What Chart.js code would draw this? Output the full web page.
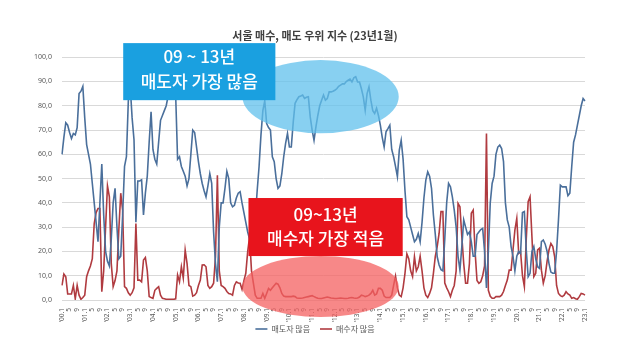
<!DOCTYPE html>
<html><head><meta charset="utf-8">
<script src="https://cdn.jsdelivr.net/npm/chart.js@4.4.1/dist/chart.umd.min.js"></script>
<style>html,body{margin:0;padding:0;background:#fff}</style>
</head><body>
<canvas id="c" width="640" height="355"></canvas>
<script>
const FONT = '"Noto Sans CJK KR", "Noto Sans", sans-serif';
const TICK_FONT = '"Noto Sans", "Liberation Sans", sans-serif';
const titleText = '서울 매수, 매도 우위 지수 (23년1월)';
const seriesNames = ['매도자 많음', '매수자 많음'];
const firstYear = 2000, monthCount = 277;   // '00.1 ~ '23.1 monthly
const labelledMonths = [1, 5, 9];
const yTicks = [0, 10, 20, 30, 40, 50, 60, 70, 80, 90, 100];

// 매도자 많음 (blue)
const sellers = [
  60, 67, 73, 72, 69, 66.5, 68.6, 68, 71, 85, 86, 88,
  75, 64, 60, 56, 48, 40, 32, 24, 40, 56, 35, 20,
  16, 14, 25, 40, 46, 30, 17, 18, 35, 55, 59, 82,
  88, 75, 66, 32, 49, 49, 49.5, 35, 44, 51, 65, 77.5,
  62, 58, 56, 65, 74, 76, 78, 80, 84, 86, 87, 86,
  84, 58, 59, 55, 53, 51, 47, 50, 60, 70, 69, 63,
  57, 52, 48, 45, 42.5, 47, 52, 48, 28, 15, 7.5, 30,
  40, 40, 46, 53, 50, 40, 38.4, 39, 42, 44, 44.6, 40,
  36, 32, 28, 25, 23, 26, 34, 45, 55, 68, 78, 82,
  72.7, 71, 70, 59, 57, 50, 46, 47, 52, 59, 64.5, 68.6,
  63, 63, 73, 81, 82.5, 83.7, 84, 84.4, 83, 83.5, 83.7, 75.4,
  70, 65.8, 71.3, 76, 80, 82.3, 84.4, 82.3, 83, 85.7, 85.7, 86,
  86.4, 87, 88, 88.5, 89, 89, 90, 90.5, 91, 89.8, 91.5, 92,
  89.8, 89.8, 87, 83.7, 78.2, 85, 87.8, 82.3, 78, 76.8, 79, 76,
  72, 67, 63, 69.3, 70.6, 72, 62, 59, 55, 50.8, 61.7, 65.8,
  58, 45, 34.3, 33, 30, 27, 24, 25, 27.4, 24, 32, 42,
  49.4, 52.8, 51, 46, 35, 27, 17.8, 14.4, 12.5, 12, 25, 40,
  48, 46.6, 42.5, 37, 30, 18, 12.3, 22, 33, 30, 27, 28,
  24, 18, 18, 27, 28, 29, 29.5, 20, 5, 20, 40, 48,
  51, 60, 63, 63.8, 62.4, 57, 40, 33, 30, 22, 18, 12,
  18, 20, 19.2, 36, 36.4, 20.6, 9.6, 11, 20, 22, 17, 13.7,
  13, 24, 24.7, 23, 20, 15, 11.5, 11, 11, 20, 33, 47.3,
  46.6, 46.6, 46.6, 43, 44, 55, 65, 68, 72, 76, 80, 83,
  82
];

// 매수자 많음 (red)
const buyers = [
  6, 10.7, 9.6, 2.5, 2.5, 2.5, 6, 0.5, 6, 2, 0.3, 1,
  2, 9.6, 12, 14, 17, 31.5, 36, 37.7, 37.7, 3.4, 12, 30,
  47, 42.5, 15, 5.5, 8, 12, 29, 44, 37, 5.5, 4.8, 3,
  2, 3, 5, 31.5, 8.2, 8.2, 7.5, 16.5, 17.5, 12, 1.4, 1,
  0.7, 4, 4.8, 5.5, 2, 0.7, 0.5, 0.3, 0.3, 0.3, 0.3, 0.3,
  0.5, 10.3, 7.5, 13.7, 9, 20.6, 15, 6, 5.5, 1.6, 2, 3,
  6, 8.2, 14.4, 14.5, 13.7, 6, 4.8, 5.5, 6.9, 17.8, 51.4, 12,
  6, 5.5, 4.8, 3.5, 2.7, 2.5, 2, 6, 7.5, 7, 6.9, 4.4,
  8, 11, 20, 26, 12, 7, 2, 0.7, 0.7, 0.7, 2.7, 0.7,
  2.7, 4.8, 4, 5, 6, 6.9, 6.5, 5, 2.7, 1.6, 1.4, 1.4,
  1.4, 1.4, 1.6, 1.4, 0.8, 0.7, 0.7, 0.8, 1, 1.2, 1.4, 1.6,
  1.8, 1.4, 1, 0.7, 0.6, 0.6, 0.8, 1.0, 1.2, 1.0, 0.8, 0.7,
  0.6, 0.6, 0.7, 0.8, 0.7, 0.6, 0.6, 0.7, 0.9, 1.0, 0.8, 0.7,
  0.8, 1.2, 2.0, 1.8, 1.4, 1.6, 2.0, 2.7, 4, 2, 2.5, 4.8,
  4.8, 4, 1.6, 1, 1, 1, 2, 6, 9.9, 5, 2, 1.4,
  5, 11, 19, 17, 12, 9.6, 17.8, 12, 13.7, 18, 12, 5,
  2, 1, 2.7, 5, 11, 18, 22, 27.4, 36.4, 36.4, 7, 5,
  3.4, 1.4, 4, 6, 12, 39.8, 38.4, 26, 15, 6.9, 6.9, 15,
  35.7, 37, 20, 8, 6.9, 7.5, 10, 14, 68.6, 4, 1.5, 0.7,
  0.7, 1.4, 1.4, 1.4, 2, 3.5, 6, 8.2, 12.3, 12.3, 20.6, 28.8,
  33.6, 19.2, 19.9, 10, 5.5, 25, 40.5, 42.5, 26, 9.6, 11, 20.6,
  21.3, 12.3, 6.9, 10, 16, 20.6, 23.3, 22, 17.8, 6, 2.7, 1.8,
  1.4, 2, 3.4, 2.5, 2, 0.7, 1, 0.5, 0.3, 1.4, 2.7, 2.5,
  2
];

// category labels: "'00.1", "2", ... "'23.1"
const categories = [];
const categoryMonth = [];
for (let k = 0; k < monthCount; k++) {
  const yy = firstYear + Math.floor(k / 12), mm = k % 12 + 1;
  categoryMonth.push(mm);
  categories.push(mm === 1 ? "'" + String(yy % 100).padStart(2, '0') + '.1' : String(mm));
}

// annotation callouts (in data units: x = month index, y = index value)
const callouts = [
  { kind: 'ellipse', x0: 95.2, x1: 177.7, y0: 98.8, y1: 68.7, fill: 'rgba(96,192,236,0.75)' },
  { kind: 'ellipse', x0: 95.2, x1: 177.7, y0: 18.1, y1: -7.0, fill: 'rgba(244,96,96,0.75)' },
  { kind: 'box', x0: 32.3, x1: 112.6, y0: 105.8, y1: 82.3, fill: '#1aa0e0',
    lines: [['09 ~ 13년', 100.2], ['매도자 가장 많음', 89.8]] },
  { kind: 'box', x0: 98.4, x1: 179.8, y0: 42.0, y1: 18.1, fill: '#e8141c',
    lines: [['09~13년', 35.4], ['매수자 가장 적음', 25.2]] }
];

const calloutPlugin = {
  id: 'callouts',
  afterLayout(chart) {
    // pull the legend row up to sit just under the month labels
    if (chart.legend) { chart.legend.top -= 9; chart.legend.bottom -= 9; }
  },
  afterDatasetsDraw(chart) {
    const { ctx, scales: { x, y } } = chart;
    ctx.save();
    callouts.forEach(c => {
      const L = x.getPixelForValue(c.x0), R = x.getPixelForValue(c.x1);
      const T = y.getPixelForValue(c.y0), B = y.getPixelForValue(c.y1);
      ctx.fillStyle = c.fill;
      if (c.kind === 'ellipse') {
        ctx.beginPath();
        ctx.ellipse((L + R) / 2, (T + B) / 2, (R - L) / 2, (B - T) / 2, 0, 0, Math.PI * 2);
        ctx.fill();
      } else {
        ctx.fillRect(L, T, R - L, B - T);
        ctx.fillStyle = '#ffffff';
        ctx.font = '500 17px ' + FONT;
        ctx.textAlign = 'center';
        ctx.textBaseline = 'middle';
        c.lines.forEach(([t, v]) => ctx.fillText(t, (L + R) / 2, y.getPixelForValue(v)));
      }
    });
    ctx.restore();
  }
};

new Chart(document.getElementById('c'), {
  type: 'line',
  data: {
    labels: categories,
    datasets: [
      { label: seriesNames[0], data: sellers, borderColor: '#4a6f9b', backgroundColor: '#4a6f9b',
        borderWidth: 1.6, pointRadius: 0, tension: 0 },
      { label: seriesNames[1], data: buyers, borderColor: '#b03b40', backgroundColor: '#b03b40',
        borderWidth: 1.6, pointRadius: 0, tension: 0 }
    ]
  },
  options: {
    responsive: false,
    animation: false,
    devicePixelRatio: 1,
    layout: { padding: { top: 29, right: 10, bottom: 3, left: 0 } },
    plugins: {
      title: { display: true, text: titleText, color: '#404040',
        font: { family: FONT, size: 11, weight: 'bold' }, padding: { top: 0, bottom: 15 } },
      legend: { position: 'bottom',
        labels: { usePointStyle: true, pointStyle: 'line', pointStyleWidth: 12, color: '#595959',
          font: { family: FONT, size: 8 }, padding: 10 } },
      tooltip: { enabled: false }
    },
    scales: {
      x: {
        grid: { display: false }, border: { display: false },
        ticks: { autoSkip: false, minRotation: 90, maxRotation: 90, padding: 0, color: '#595959',
          font: { family: TICK_FONT, size: 6.5 },
          callback: (v, i) => labelledMonths.includes(categoryMonth[i]) ? categories[i] : '' },
        afterFit(s) { s.height = 24; }
      },
      y: {
        min: 0, max: 100,
        grid: { color: '#d9d9d9', drawTicks: false }, border: { display: false },
        afterBuildTicks(s) { s.ticks = yTicks.map(v => ({ value: v })); },
        ticks: { padding: 10, color: '#595959', font: { family: TICK_FONT, size: 7 },
          callback: v => v.toFixed(1).replace('.', ',') },
        afterFit(s) { s.width = 62; }
      },
      yR: {
        position: 'right', display: true,
        grid: { display: false }, border: { display: false }, ticks: { display: false },
        afterFit(s) { s.width = 45; }
      }
    }
  },
  plugins: [calloutPlugin]
});
</script>
</body></html>
